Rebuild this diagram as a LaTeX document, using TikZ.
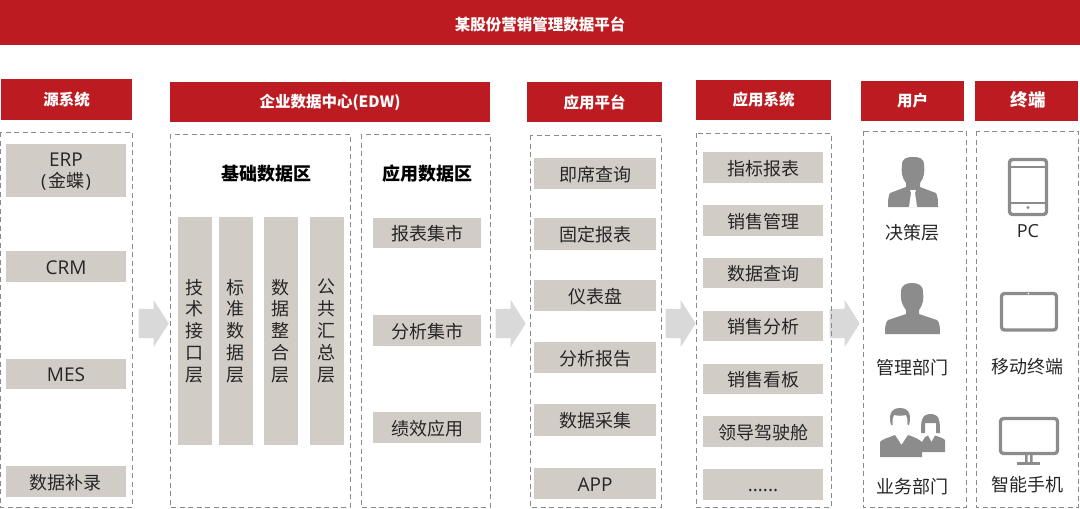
\documentclass[tikz,border=0pt]{standalone}
\usepackage{fontspec}
\setmainfont{Open Sans}
\newfontfamily\cjk{Noto Sans CJK SC}
\usetikzlibrary{shapes.arrows}
\definecolor{brandred}{HTML}{BC1C21}
\definecolor{cellgray}{HTML}{D2CCC7}
\definecolor{dashgray}{HTML}{8A8A8A}
\definecolor{icongray}{HTML}{8C8C8C}
\definecolor{inktext}{HTML}{262626}
\definecolor{flowgray}{HTML}{D9D9D9}
\tikzset{
 x=1pt,y=-1pt,
 redbar/.style={text=white,inner sep=0pt,font=\cjk\bfseries\fontsize{15.5}{18}\selectfont},
 groupbox/.style={draw=dashgray,dashed,dash pattern=on 5pt off 3.5pt,line width=1pt,fill=none},
 cellfill/.style={fill=cellgray,draw=none},
 cell/.style={text=inktext,inner sep=0pt,align=center,font=\cjk\fontsize{18}{22}\selectfont},
 celllat/.style={cell,font=\fontsize{19}{22}\selectfont},
 vcell/.style={cell,font=\cjk\fontsize{18}{21.8}\selectfont},
 lab/.style={text=inktext,inner sep=0pt,font=\cjk\fontsize{18}{22}\selectfont},
 lablat/.style={lab,font=\fontsize{18}{22}\selectfont},
 zonetitle/.style={text=black,inner sep=0pt,font=\cjk\bfseries\fontsize{18}{22}\selectfont},
 flow/.style={single arrow,fill=flowgray,draw=none,inner xsep=0pt,inner ysep=14.5pt,minimum height=30pt,single arrow head extend=9pt,single arrow tip angle=115},
 iconline/.style={draw=icongray,line width=3.3pt,fill=none,rounded corners=3pt},
 iconfill/.style={fill=icongray,draw=none},
}
\newcommand{\boxat}[6][cell]{\path[cellfill] (#3,#5) rectangle (#4,#6); \node[#1] (#2) at ({(#3+#4)/2},{(#5+#6)/2+1})}
\begin{document}
\begin{tikzpicture}
\useasboundingbox (0,0) rectangle (1080,509);
% top bar
\path[fill=brandred] (0,0) rectangle (1080,45);
\node[redbar] (title) at (540,24) {某股份营销管理数据平台};
% headers
\path[fill=brandred] (1,79) rectangle (132,120);
\node[redbar] (h1) at (66.5,100) {源系统};
\path[fill=brandred] (170,82) rectangle (490,122);
\node[redbar] (h2) at (330,102.5) {企业数据中心(EDW)};
\path[fill=brandred] (527,82) rectangle (662,122);
\node[redbar] (h3) at (594.5,102) {应用平台};
\path[fill=brandred] (696,80) rectangle (831,120);
\node[redbar] (h4) at (763.5,100) {应用系统};
\path[fill=brandred] (861,81) rectangle (964,121);
\node[redbar] (h5) at (912.5,101) {用户};
\path[fill=brandred] (975,81) rectangle (1078,121);
\node[redbar,font=\cjk\bfseries\fontsize{17.5}{18}\selectfont] (h6) at (1028,100) {终端};
% flow arrows
\node[flow] (f1) at (149,323.5) {};
\node[flow] (f2) at (506,323.5) {};
\node[flow] (f3) at (676,323.5) {};
\node[flow] (f4) at (840,323.5) {};
% group frames
\draw[groupbox] (0.5,132) rectangle (132,507);
\draw[groupbox] (170,134) rectangle (350,507);
\draw[groupbox] (361,134) rectangle (490,507);
\draw[groupbox] (530,135) rectangle (661,507);
\draw[groupbox] (696,133) rectangle (831,507);
\draw[groupbox] (863,131) rectangle (966,507);
\draw[groupbox] (976,131) rectangle (1078,507);
% source
\boxat{s1}{6}{126}{144}{197} {{\fontspec{Open Sans}\fontsize{19}{22}\selectfont ERP}\\[-1pt]{\fontspec{Open Sans}(\kern1.5pt}金蝶{\fontspec{Open Sans}\kern1.5pt)}};
\boxat[celllat]{s2}{6}{126}{251}{282} {CRM};
\boxat[celllat]{s3}{6}{126}{359}{389} {MES};
\boxat{s4}{6}{126}{466}{497} {数据补录};
% EDW
\node[zonetitle] (z1) at (266,173.5) {基础数据区};
\node[zonetitle] (z2) at (427,173.5) {应用数据区};
\path[cellfill] (178,217) rectangle (212,445);
\node[vcell] (v1) at (194.5,331) {技\\术\\接\\口\\层};
\path[cellfill] (219,217) rectangle (253,445);
\node[vcell] (v2) at (235.5,331) {标\\准\\数\\据\\层};
\path[cellfill] (264,217) rectangle (298,445);
\node[vcell] (v3) at (280.5,331) {数\\据\\整\\合\\层};
\path[cellfill] (310,217) rectangle (344,445);
\node[vcell] (v4) at (326.5,331) {公\\共\\汇\\总\\层};
\boxat{m1}{373}{481}{218}{248} {报表集市};
\boxat{m2}{373}{481}{315}{346} {分析集市};
\boxat{m3}{373}{481}{412}{443} {绩效应用};
% platform
\boxat{p1}{534}{656}{158}{189} {即席查询};
\boxat{p2}{534}{656}{218}{250} {固定报表};
\boxat{p3}{534}{656}{280}{311} {仪表盘};
\boxat{p4}{534}{656}{342}{373} {分析报告};
\boxat{p5}{534}{656}{404}{436} {数据采集};
\boxat[celllat]{p6}{534}{656}{468}{499} {APP};
% systems
\boxat{a1}{703}{823}{152}{183} {指标报表};
\boxat{a2}{703}{823}{205}{236} {销售管理};
\boxat{a3}{703}{823}{258}{288} {数据查询};
\boxat{a4}{703}{823}{311}{341} {销售分析};
\boxat{a5}{703}{823}{364}{394} {销售看板};
\boxat{a6}{703}{823}{416}{447} {领导驾驶舱};
\path[cellfill] (703,469) rectangle (823,500);
\node[celllat,anchor=base] (a7) at (763,491) {......};
% users: decision
\path[iconfill] (902,165) .. controls (902,158) and (907,157) .. (913,157) .. controls (919,157) and (924,158) .. (924,165)
 .. controls (925,172) and (924,178) .. (920,183) -- (920,187) -- (936,193) .. controls (938,196) and (938,202) .. (938,207)
 -- (888,207) .. controls (888,202) and (888,196) .. (890,193) -- (906,187) -- (906,183) .. controls (902,178) and (901,172) .. (902,165) -- cycle;
\path[fill=white] (910,190) -- (916,190) -- (915,193) -- (917,207) -- (909,207) -- (911,193) -- cycle;
\node[lab] (u1) at (912.5,233) {决策层};
% users: management
\path[iconfill] (901,292) .. controls (901,285) and (906,283) .. (912,283) .. controls (918,283) and (923,285) .. (923,292)
 .. controls (924,299) and (923,305) .. (919,310) -- (919,314) -- (937,320) .. controls (940,323) and (940,328) .. (940,334)
 -- (885,334) .. controls (885,328) and (885,323) .. (888,320) -- (906,314) -- (906,310) .. controls (902,305) and (900,299) .. (901,292) -- cycle;
\node[lab] (u2) at (912,367.5) {管理部门};
% users: operations
\path[iconfill] (891,425) .. controls (889,418) and (889,408) .. (900,408) .. controls (911,408) and (911,418) .. (909,425) -- (907.5,425)
 .. controls (907.5,420) and (907.5,417) .. (906,415) .. controls (902,416) and (898,416) .. (894,415) .. controls (892.5,417) and (892.5,420) .. (892.5,425) -- cycle;
\path[iconfill] (880,457) -- (880,442) .. controls (882,439) and (888,438) .. (895,435) -- (901.5,445) -- (908,435) .. controls (914,437) and (919,439) .. (922,442) -- (922,457) -- cycle;
\path[iconfill] (921,433) .. controls (921,422) and (921,414) .. (930.5,414) .. controls (940,414) and (940,422) .. (940,433) -- (936,433)
 -- (936,423) -- (925,423) -- (925,433) -- cycle;
\path[iconfill] (922,442) -- (925,437) -- (928,435.5) -- (931.5,442) -- (935,435.5) .. controls (939,437) and (943,438) .. (945,440) -- (945,452) -- (922,452) -- cycle;
\node[lab] (u3) at (912,486.5) {业务部门};
% terminals
\draw[iconline] (1009.5,159.5) rectangle (1046.5,214.5);
\draw[draw=icongray,line width=1.6pt] (1009.5,167) -- (1046.5,167) (1009.5,203) -- (1046.5,203);
\fill[icongray] (1028,207.5) circle (1.6pt);
\node[lablat] (t1) at (1028,231) {PC};
\draw[iconline] (1001.5,293.5) rectangle (1056.5,330);
\fill[white] (1028.5,293.5) circle (0.9pt);
\node[lab] (t2) at (1027,366.5) {移动终端};
\draw[iconline] (1000.5,418.5) rectangle (1057.5,453.5);
\path[iconfill] (1025,454) rectangle (1027.5,463) (1030,454) rectangle (1032.5,463);
\path[iconfill] (1017,462) rectangle (1040,465);
\node[lab] (t3) at (1027,484.5) {智能手机};
\end{tikzpicture}
\end{document}
